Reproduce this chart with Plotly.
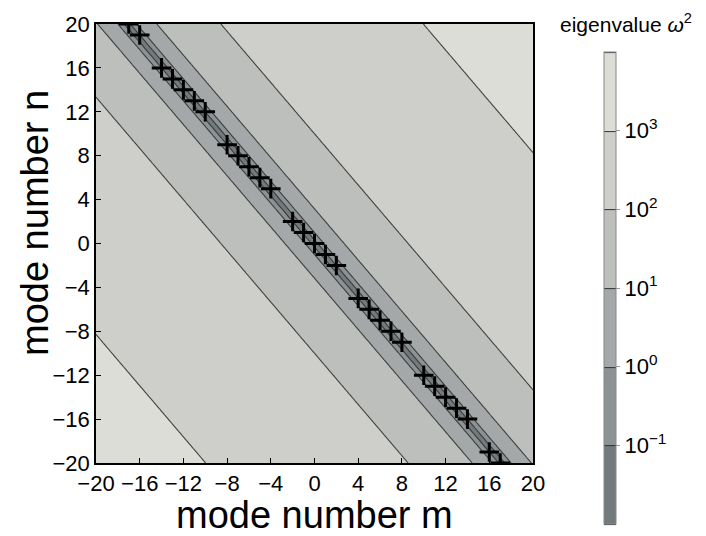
import numpy as np
import plotly.graph_objects as go

# ---- data ----
m_range = [-20, 20]
n_range = [-20, 20]
slope = 7 / 6            # omega^2 = (slope*m + n)^2, estimated from contour geometry
level_exponents = [-1, 0, 1, 2, 3]
level_labels = ["10<sup>\u22121</sup>", "10<sup>0</sup>", "10<sup>1</sup>", "10<sup>2</sup>", "10<sup>3</sup>"]
band_colors = ["#737a7d", "#8d9294", "#a5a8a8", "#bdbfbc", "#cecfca", "#dcddd7"]

cross_m = [-17, -16, -14, -13, -12, -11, -10, -8, -7, -6, -5, -4, -2, -1, 0,
           1, 2, 4, 5, 6, 7, 8, 10, 11, 12, 13, 14, 16, 17]
cross_n = [20, 19, 16, 15, 14, 13, 12, 9, 8, 7, 6, 5, 2, 1, 0,
           -1, -2, -5, -6, -7, -8, -9, -12, -13, -14, -15, -16, -19, -20]

tick_vals = [-20, -16, -12, -8, -4, 0, 4, 8, 12, 16, 20]
tick_text = [str(v).replace("-", "\u2212") for v in tick_vals]

# ---- field ----
m_axis = np.linspace(m_range[0], m_range[1], 241)
n_axis = np.linspace(n_range[0], n_range[1], 241)
M, N = np.meshgrid(m_axis, n_axis)
omega2 = (slope * M + N) ** 2
Z = np.log10(np.clip(omega2, 10 ** -1.98, None))

nb = len(band_colors)
scale = []
for i, c in enumerate(band_colors):
    scale.append([i / nb, c])
    scale.append([(i + 1) / nb, c])

FONT = "Liberation Sans, Arial, sans-serif"

# page body has an 8px margin; figure coords = page coords - 8
OFF = 8
W, H = 706 - OFF, 536 - OFF
PL, PR, PT, PB = 96 - OFF, 533 - OFF, 24 - OFF, 463 - OFF
pw, ph = PR - PL, PB - PT


def px_x(page_x):
    return (page_x - OFF - PL) / pw


def px_y(page_y):
    return (PB - (page_y - OFF)) / ph


fig = go.Figure()
fig.add_trace(go.Contour(
    x=m_axis, y=n_axis, z=Z,
    zmin=-2, zmax=4, zauto=False,
    autocontour=False,
    contours=dict(start=-2, end=4, size=1, coloring="fill", showlines=True),
    line=dict(color="rgba(50,50,50,0.9)", width=1.1),
    colorscale=scale,
    hoverinfo="skip",
    colorbar=dict(
        x=px_x(604), xanchor="left", xpad=0,
        y=px_y(288), yanchor="middle", ypad=0,
        lenmode="pixels", len=472, thickness=12,
        outlinewidth=1, outlinecolor="#888888",
        tickvals=level_exponents, ticktext=level_labels,
        ticks="outside", ticklen=4, tickcolor="#999999",
        tickfont=dict(family=FONT, size=22, color="black"),
    ),
))
fig.add_trace(go.Scatter(
    x=cross_m, y=cross_n, mode="markers",
    marker=dict(symbol="cross-thin-open", size=14, color="black",
                line=dict(color="black", width=3)),
    showlegend=False, hoverinfo="skip",
))

axis_common = dict(
    tickvals=tick_vals, ticktext=tick_text,
    ticks="inside", ticklen=5, tickcolor="black", tickwidth=1,
    showline=True, linecolor="black", linewidth=1.5, mirror=True,
    showgrid=False, zeroline=False, automargin=False,
    tickfont=dict(family=FONT, size=22, color="black"),
)
fig.update_xaxes(range=m_range, **axis_common)
fig.update_yaxes(range=n_range, **axis_common)

fig.add_annotation(
    x=px_x(314), y=px_y(515), xref="paper", yref="paper",
    text="mode number m", showarrow=False, borderpad=0,
    xanchor="center", yanchor="middle",
    font=dict(family=FONT, size=38, color="black"),
)
fig.add_annotation(
    x=px_x(35), y=px_y(223), xref="paper", yref="paper",
    text="mode number n", showarrow=False, textangle=-90, borderpad=0,
    xanchor="center", yanchor="middle",
    font=dict(family=FONT, size=38, color="black"),
)
fig.add_annotation(
    x=px_x(626), y=px_y(23), xref="paper", yref="paper",
    text="eigenvalue <i>\u03c9</i><sup>2</sup>", showarrow=False,
    xanchor="center", yanchor="middle",
    font=dict(family=FONT, size=21, color="black"),
)

fig.update_layout(
    width=W, height=H,
    margin=dict(l=PL, r=W - PR, t=PT, b=H - PB, autoexpand=False),
    paper_bgcolor="white", plot_bgcolor="white",
    showlegend=False,
)
fig.write_html("out.html")
